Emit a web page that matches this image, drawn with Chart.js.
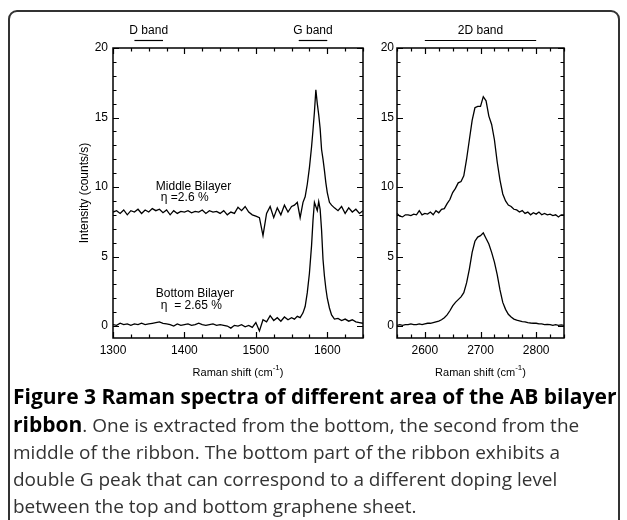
<!DOCTYPE html>
<html>
<head>
<meta charset="utf-8">
<script src="https://cdn.jsdelivr.net/npm/chart.js@4/dist/chart.umd.min.js"></script>
<style>
  body { margin: 0; background: #fff; width: 627px; height: 520px; overflow: hidden; position: relative; }
  #frame { position: absolute; left: 8px; top: 10px; width: 608px; height: 600px; border: 2px solid #333; border-radius: 9px; }
  canvas { position: absolute; top: 0; }
  #c1 { left: 0; }
  #c2 { left: 365px; }
  #caption { position: absolute; left: 13px; top: 383px; width: 606px; font-family: "Open Sans", sans-serif; font-size: 19px; line-height: 27px; color: #333; white-space: nowrap; }
  #caption b { color: #000; font-size: 21px; }
</style>
</head>
<body>
<div id="frame"></div>
<canvas id="c1" width="365" height="390"></canvas>
<canvas id="c2" width="209" height="390"></canvas>
<div id="caption"><b>Figure 3 Raman spectra of different area of the AB bilayer</b><br><b>ribbon</b>. One is extracted from the bottom, the second from the<br>middle of the ribbon. The bottom part of the ribbon exhibits a<br>double G peak that can correspond to a different doping level<br>between the top and bottom graphene sheet.</div>
<script>
// G / D region (left panel)
const gShift = [1300,1305,1310,1315,1320,1325,1330,1335,1340,1345,1350,1355,1360,1365,1370,1375,1380,1385,1390,1395,
  1400,1405,1410,1415,1420,1425,1430,1435,1440,1445,1450,1455,1460,1465,1470,1475,1480,1485,1490,1495,
  1500,1505,1510,1515,1520,1525,1530,1535,1540,1545,1550,1554,1558,1562,1566,1569,1572,1575,1578,1580,
  1582,1584,1586,1588,1590,1592,1594,1596,1598,1600,1603,1606,1610,1615,1620,1625,1630,1635,1640,1645,1650];
const gMiddle = [8.2,8.3,8.1,8.35,8.0,8.3,8.2,8.4,8.1,8.35,8.2,8.45,8.3,8.4,8.15,8.35,8.0,8.3,8.1,8.25,
  8.2,8.3,8.15,8.25,8.2,8.35,8.1,8.3,8.2,8.25,8.1,8.3,8.0,8.2,8.1,8.55,8.3,8.6,8.2,8.0,
  7.9,7.8,6.5,8.1,8.6,7.8,8.5,8.0,8.7,8.2,8.6,8.7,8.9,7.8,8.9,9.3,10.2,11.4,12.9,14.1,
  15.4,17.0,16.0,15.2,14.2,12.7,12.0,11.2,10.3,9.6,8.9,8.7,8.5,8.3,8.6,8.1,8.5,8.2,8.4,8.1,8.3];
const gBottom = [0.1,0.05,0.2,0.1,0.15,0.05,0.15,0.1,0.2,0.1,0.15,0.2,0.25,0.3,0.2,0.15,0.1,0.0,0.15,0.05,
  0.1,0.15,0.05,0.1,0.2,0.1,0.05,0.1,0.15,0.05,0.1,0.05,0.0,-0.15,0.05,0.0,0.1,-0.05,0.05,-0.1,
  0.25,-0.35,0.45,0.3,0.75,0.4,0.6,0.35,0.65,0.45,0.6,0.5,0.7,0.6,0.95,1.4,2.4,3.8,5.8,7.6,
  8.9,8.6,8.3,8.95,8.4,6.9,4.8,3.6,2.7,2.0,1.3,0.8,0.5,0.55,0.4,0.5,0.35,0.45,0.3,0.25,0.2];

// 2D region (right panel)
const dShift = [2550,2555,2560,2565,2570,2575,2580,2585,2590,2595,2600,2605,2610,2615,2620,2625,2630,2635,2640,2645,
  2650,2655,2660,2665,2670,2675,2680,2685,2690,2695,2700,2705,2710,2715,2720,2725,2730,2735,2740,2745,
  2750,2755,2760,2765,2770,2775,2780,2785,2790,2795,2800,2805,2810,2815,2820,2825,2830,2835,2840,2845,2850];
const dMiddle = [8.1,7.9,7.85,8.0,8.0,7.95,8.05,8.0,8.3,8.0,8.1,8.05,8.2,8.0,8.3,8.15,8.4,8.45,8.8,9.1,
  9.6,9.9,10.3,10.4,10.8,12.0,13.4,14.8,15.7,15.8,15.8,16.5,16.2,15.1,14.5,13.4,11.8,10.5,9.5,9.0,
  8.7,8.6,8.4,8.35,8.2,8.3,8.1,8.2,8.0,8.15,8.05,8.2,8.0,8.1,8.0,8.05,7.95,8.0,7.85,8.0,8.0];
const dBottom = [0.05,0.1,0.05,0.1,0.1,0.15,0.1,0.1,0.15,0.1,0.15,0.2,0.2,0.25,0.3,0.35,0.45,0.6,0.8,1.1,
  1.45,1.7,1.9,2.1,2.4,3.1,4.1,5.3,6.1,6.4,6.5,6.7,6.3,5.9,5.3,4.6,3.7,2.6,1.7,1.2,
  0.85,0.65,0.5,0.42,0.38,0.32,0.3,0.25,0.22,0.2,0.2,0.15,0.15,0.1,0.12,0.1,0.05,0.1,0.05,0.08,0.05];

const yTicks = [0, 5, 10, 15, 20];
const gTicks = [1300, 1400, 1500, 1600];
const dTicks = [2600, 2700, 2800];

// band markers above the panels: [label, from, to]
const gBands = [['D band', 1330, 1370], ['G band', 1560, 1600]];
const dBands = [['2D band', 2600, 2800]];

// sample labels: [text, x, y]
const gNotes = [['Middle Bilayer', 1360, 10.0], ['\u03b7 =2.6 %', 1367, 9.25], ['Bottom Bilayer', 1360, 2.3], ['\u03b7  = 2.65 %', 1367, 1.45]];

const FONT = '"Liberation Sans", Arial, sans-serif';

function toPts(xs, ys) {
  return xs.map((x, i) => ({ x: x, y: ys[i] }));
}

const framePlugin = {
  id: 'frame',
  afterDraw(chart) {
    const ctx = chart.ctx;
    const a = chart.chartArea;
    const xs = chart.scales.x, ys = chart.scales.y;
    const o = chart.options.plugins.frame;
    ctx.save();
    ctx.strokeStyle = '#000';
    ctx.lineWidth = 1.5;
    ctx.strokeRect(a.left, a.top, a.right - a.left, a.bottom - a.top);
    // inward ticks on all four sides
    ctx.lineWidth = 1.2;
    ctx.beginPath();
    for (let v = xs.min; v <= xs.max; v += 25) {
      const px = Math.round(xs.getPixelForValue(v)) + 0.5;
      const len = v % 100 === 0 ? 6 : 3.5;
      ctx.moveTo(px, a.bottom); ctx.lineTo(px, a.bottom - len);
      ctx.moveTo(px, a.top); ctx.lineTo(px, a.top + len);
    }
    for (let v = 0; v <= 20; v += 1) {
      const py = Math.round(ys.getPixelForValue(v)) + 0.5;
      const len = v % 5 === 0 ? 6 : 3.5;
      ctx.moveTo(a.left, py); ctx.lineTo(a.left + len, py);
      ctx.moveTo(a.right, py); ctx.lineTo(a.right - len, py);
    }
    ctx.stroke();
    // band markers
    ctx.fillStyle = '#000';
    ctx.font = '12px ' + FONT;
    ctx.textAlign = 'center';
    ctx.textBaseline = 'middle';
    o.bands.forEach(b => {
      const x0 = xs.getPixelForValue(b[1]), x1 = xs.getPixelForValue(b[2]);
      ctx.fillText(b[0], (x0 + x1) / 2, 31);
      ctx.beginPath();
      ctx.moveTo(x0, 40.5); ctx.lineTo(x1, 40.5);
      ctx.stroke();
    });
    // sample notes
    ctx.textAlign = 'left';
    o.notes.forEach(n => {
      ctx.fillText(n[0], xs.getPixelForValue(n[1]), ys.getPixelForValue(n[2]));
    });
    // x title with superscript
    ctx.font = '11px ' + FONT;
    const t1 = 'Raman shift (cm', sup = '-1', t2 = ')';
    const w1 = ctx.measureText(t1).width, w3 = ctx.measureText(t2).width;
    ctx.font = '8px ' + FONT;
    const w2 = ctx.measureText(sup).width;
    const x = (a.left + a.right) / 2 - (w1 + w2 + w3) / 2;
    const y = 373;
    ctx.font = '11px ' + FONT;
    ctx.fillText(t1, x, y);
    ctx.font = '8px ' + FONT;
    ctx.fillText(sup, x + w1, y - 5);
    ctx.font = '11px ' + FONT;
    ctx.fillText(t2, x + w1 + w2, y);
    // y title
    if (o.yTitle) {
      ctx.save();
      ctx.translate(85, (a.top + a.bottom) / 2);
      ctx.rotate(-Math.PI / 2);
      ctx.textAlign = 'center';
      ctx.font = '12px ' + FONT;
      ctx.fillText(o.yTitle, 0, 0);
      ctx.restore();
    }
    ctx.restore();
  }
};

function makeChart(id, xs, series, xMin, xMax, xTicks, yWidth, yPad, padRight, frameOpts) {
  return new Chart(document.getElementById(id), {
    type: 'line',
    data: {
      datasets: series.map(s => ({
        data: toPts(xs, s),
        borderColor: '#000',
        borderWidth: 1.3,
        pointRadius: 0,
        tension: 0,
        fill: false
      }))
    },
    options: {
      responsive: false,
      animation: false,
      devicePixelRatio: 1,
      layout: { padding: { top: 48, right: padRight, left: 0, bottom: 0 } },
      plugins: { legend: { display: false }, tooltip: { enabled: false }, frame: frameOpts },
      scales: {
        x: {
          type: 'linear', min: xMin, max: xMax,
          grid: { display: false, drawTicks: false, tickLength: 0 }, border: { display: false },
          afterBuildTicks: s => { s.ticks = xTicks.map(v => ({ value: v })); },
          afterFit: s => { s.height = 52; },
          ticks: { color: '#000', font: { size: 12, family: FONT }, padding: 5, maxRotation: 0, callback: v => String(v) }
        },
        y: {
          type: 'linear', min: -0.86, max: 20,
          grid: { display: false, drawTicks: false, tickLength: 0 }, border: { display: false },
          afterBuildTicks: s => { s.ticks = yTicks.map(v => ({ value: v })); },
          afterFit: s => { s.width = yWidth; },
          ticks: { color: '#000', font: { size: 12, family: FONT }, padding: yPad, callback: v => String(v) }
        }
      }
    },
    plugins: [framePlugin]
  });
}

makeChart('c1', gShift, [gMiddle, gBottom], 1300, 1650, gTicks, 113, 5, 2,
  { bands: gBands, notes: gNotes, yTitle: 'Intensity (counts/s)' });
makeChart('c2', dShift, [dMiddle, dBottom], 2550, 2850, dTicks, 32, 3, 10,
  { bands: dBands, notes: [], yTitle: null });
</script>
</body>
</html>
